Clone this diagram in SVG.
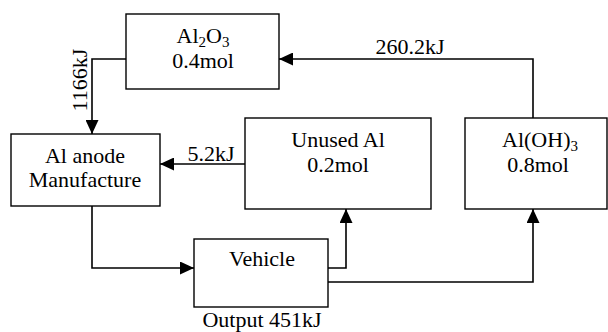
<svg xmlns="http://www.w3.org/2000/svg" width="608" height="332" viewBox="0 0 608 332">
<style>
.box{fill:#fff;stroke:#000;stroke-width:1.4}
.t{font-family:"Liberation Serif","Times New Roman",serif;font-size:22px;fill:#000;text-anchor:middle}
.sub{font-size:15px}
.c{fill:none;stroke:#000;stroke-width:1.6}
</style>
<defs>
<marker id="ah" markerUnits="userSpaceOnUse" markerWidth="15" markerHeight="13" refX="14" refY="6.5" orient="auto">
<path d="M0,0 L14,6.5 L0,13 z" fill="#000"/>
</marker>
</defs>
<rect width="608" height="332" fill="#fff"/>
<g id="connectors">
<path class="c" d="M126,59 H92 V134" marker-end="url(#ah)"/>
<path class="c" d="M533,118 V59 H279" marker-end="url(#ah)"/>
<path class="c" d="M245,164 H160" marker-end="url(#ah)"/>
<path class="c" d="M92,206 V268 H194" marker-end="url(#ah)"/>
<path class="c" d="M328,268 H346 V209" marker-end="url(#ah)"/>
<path class="c" d="M328,282 H533 V209" marker-end="url(#ah)"/>
<text class="t" x="410" y="54">260.2kJ</text>
<text class="t" x="211" y="161">5.2kJ</text>
<text class="t" transform="translate(87,80) rotate(-90)">1166kJ</text>
</g>
<g id="al2o3">
<rect class="box" x="126" y="14" width="153" height="75"/>
<text class="t" x="203" y="43">Al<tspan class="sub" dy="4">2</tspan><tspan dy="-4">O</tspan><tspan class="sub" dy="4">3</tspan></text>
<text class="t" x="203" y="68">0.4mol</text>
</g>
<g id="anode">
<rect class="box" x="11" y="134" width="149" height="72"/>
<text class="t" x="85" y="163">Al anode</text>
<text class="t" x="85" y="187">Manufacture</text>
</g>
<g id="unused">
<rect class="box" x="245" y="118" width="186" height="91"/>
<text class="t" x="338" y="147">Unused Al</text>
<text class="t" x="338" y="172">0.2mol</text>
</g>
<g id="aloh3">
<rect class="box" x="465" y="118" width="142" height="91"/>
<text class="t" x="540" y="147">Al(OH)<tspan class="sub" dy="4">3</tspan></text>
<text class="t" x="538" y="172">0.8mol</text>
</g>
<g id="vehicle">
<rect class="box" x="194" y="239" width="134" height="68"/>
<text class="t" x="262" y="266">Vehicle</text>
<text class="t" x="262" y="327">Output 451kJ</text>
</g>
</svg>
